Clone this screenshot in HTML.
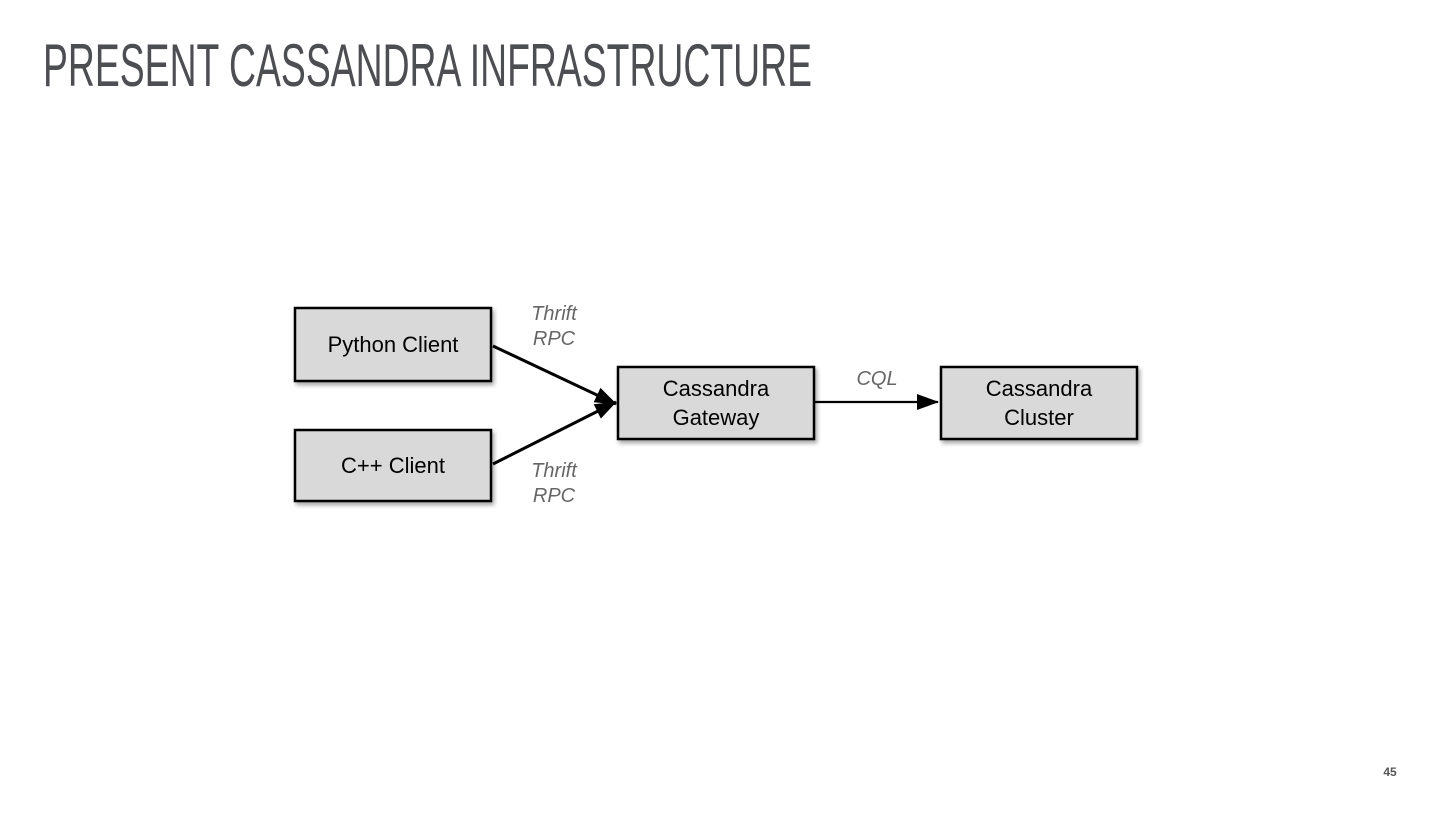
<!DOCTYPE html>
<html><head><style>
body{margin:0;width:1440px;height:810px;background:#fff;overflow:hidden}
</style></head><body>
<svg width="1440" height="810" xmlns="http://www.w3.org/2000/svg">
<defs>
<filter id="s" x="-10%" y="-10%" width="130%" height="140%"><feDropShadow dx="2" dy="3" stdDeviation="2" flood-color="#000" flood-opacity="0.35"/></filter>
<marker id="a" markerWidth="10" markerHeight="10" refX="9" refY="5" orient="auto" markerUnits="userSpaceOnUse"><path d="M0,0 L10,5 L0,10 z" fill="#000"/></marker>
<marker id="b" markerWidth="22" markerHeight="16" refX="21" refY="8" orient="auto" markerUnits="userSpaceOnUse"><path d="M0,0 L22,8 L0,16 z" fill="#000"/></marker>
</defs>
<text x="43" y="86" font-family="Liberation Sans, sans-serif" font-size="60" fill="#4d4e52" textLength="769" lengthAdjust="spacingAndGlyphs">PRESENT CASSANDRA INFRASTRUCTURE</text>
<g fill="#d9d9d9" stroke="#000" stroke-width="2.5" filter="url(#s)">
<rect x="295" y="308" width="196" height="73"/>
<rect x="295" y="430" width="196" height="71"/>
<rect x="618" y="367" width="196" height="72"/>
<rect x="941" y="367" width="196" height="72"/>
</g>
<g stroke="#000" stroke-width="3" fill="none">
<line x1="493" y1="346" x2="616" y2="404" marker-end="url(#b)"/>
<line x1="493" y1="464" x2="616" y2="402" marker-end="url(#b)"/>
<line x1="815" y1="402" x2="938" y2="402" stroke-width="2.2" marker-end="url(#b)"/>
</g>
<g font-family="Liberation Sans, sans-serif" font-size="22" fill="#000" text-anchor="middle">
<text x="393" y="352">Python Client</text>
<text x="393" y="473">C++ Client</text>
<text x="716" y="396">Cassandra</text>
<text x="716" y="425">Gateway</text>
<text x="1039" y="396">Cassandra</text>
<text x="1039" y="425">Cluster</text>
</g>
<g font-family="Liberation Sans, sans-serif" font-size="20" font-style="italic" fill="#666" text-anchor="middle">
<text x="554" y="320">Thrift</text>
<text x="554" y="345">RPC</text>
<text x="554" y="477">Thrift</text>
<text x="554" y="502">RPC</text>
<text x="877" y="385">CQL</text>
</g>
<text x="1390" y="776" font-family="Liberation Sans, sans-serif" font-size="12" font-weight="bold" fill="#555" text-anchor="middle">45</text>
</svg>
</body></html>
